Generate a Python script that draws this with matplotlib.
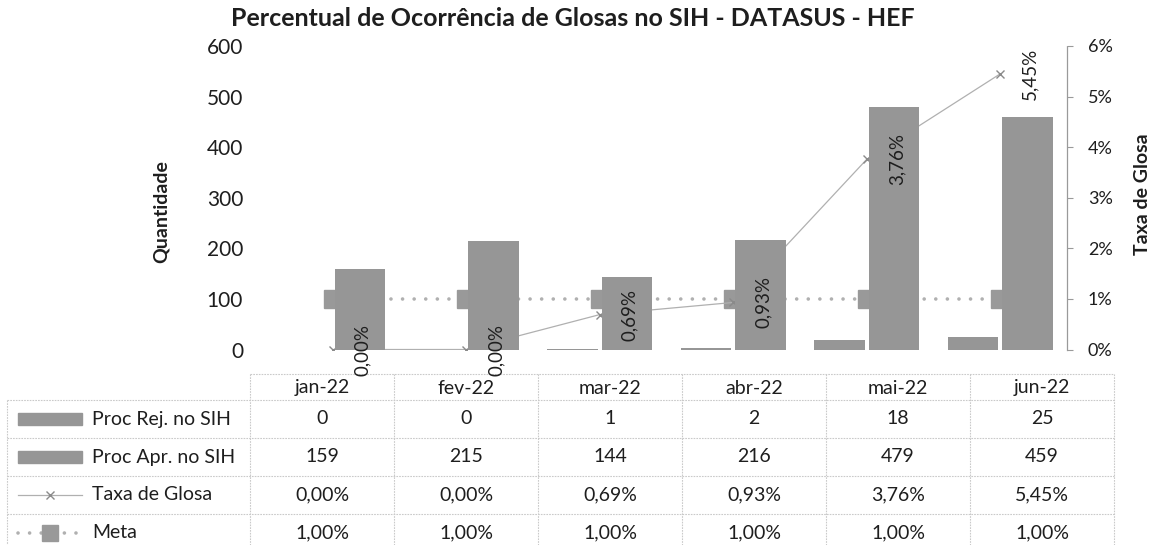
import matplotlib
matplotlib.use('Agg')
import matplotlib.pyplot as plt
import numpy as np
from matplotlib.patches import Rectangle

# ---------------- data ----------------
months = ['jan-22', 'fev-22', 'mar-22', 'abr-22', 'mai-22', 'jun-22']
proc_rej = [0, 0, 1, 2, 18, 25]
proc_apr = [159, 215, 144, 216, 479, 459]
taxa = [0.00, 0.00, 0.69, 0.93, 3.76, 5.45]      # %
meta = [1.00, 1.00, 1.00, 1.00, 1.00, 1.00]      # %
row_labels = ['Proc Rej. no SIH', 'Proc Apr. no SIH', 'Taxa de Glosa', 'Meta']
title = 'Percentual de Ocorrência de Glosas no SIH - DATASUS - HEF'
left_ticks = [0, 100, 200, 300, 400, 500, 600]
right_ticks = [0, 1, 2, 3, 4, 5, 6]


def pct(v):
    return f'{v:.2f}%'.replace('.', ',')


plt.rcParams['font.family'] = ['Lato', 'DejaVu Sans']

W, H = 1150, 545
fig = plt.figure(figsize=(W / 100, H / 100), dpi=100)

BAR_C = '#969696'
LINE_C = '#b0b0b0'
TXT_C = '#1e1e1e'

# ---------------- chart ----------------
ax = fig.add_axes([266 / W, (H - 349.5) / H, 801 / W, 303.5 / H])
ax2 = ax.twinx()
ax.set_zorder(ax2.get_zorder() + 1)
ax.patch.set_visible(False)

x = np.arange(len(months))
ax.bar(x - 0.205, proc_rej, width=0.38, color=BAR_C, zorder=2)
ax.bar(x + 0.205, proc_apr, width=0.38, color=BAR_C, zorder=2)
ax.set_xlim(-0.5, len(months) - 0.5)
ax.set_ylim(0, 600)
ax.set_yticks(left_ticks)
ax.set_xticks([])
ax.tick_params(axis='y', length=0, pad=16.5, labelsize=15, labelcolor=TXT_C)
for s in ax.spines.values():
    s.set_visible(False)

# lines (drawn behind the bars)
ax2.plot(x, meta, color=LINE_C, lw=2.6, linestyle=(0, (0.01, 3.2)),
         dash_capstyle='round', marker='s', ms=13, mfc='#999999', mec='#999999')
ax2.plot(x, taxa, color=LINE_C, lw=0.9, marker='x', ms=6, mew=1, mec='#8a8a8a')
ax2.set_ylim(0, 6)
ax2.set_yticks(right_ticks)
ax2.set_yticklabels([f'{t}%' for t in right_ticks])
ax2.tick_params(axis='y', direction='out', length=4, color='#9a9a9a', pad=11,
                labelsize=13, labelcolor=TXT_C)
for k, s in ax2.spines.items():
    s.set_visible(k == 'right')
ax2.spines['right'].set_color('#9a9a9a')
ax2.spines['right'].set_linestyle((0, (1, 1)))
ax2.spines['right'].set_linewidth(0.9)

# data labels for Taxa de Glosa (on top of bars)
for xi, v in zip(x, taxa):
    ax.annotate(pct(v), xy=(xi, v), xycoords=ax2.transData, xytext=(21.5, 0),
                textcoords='offset points', rotation=90, ha='center', va='center',
                fontsize=13.5, color=TXT_C, zorder=5, annotation_clip=False)

# titles
fig.text(573 / W, 1 - 19 / H, title, ha='center', va='center', fontsize=18,
         fontweight='bold', color=TXT_C)
fig.text(161 / W, 1 - 212 / H, 'Quantidade', rotation=90, ha='center', va='center',
         fontsize=14, fontweight='bold', color=TXT_C)
fig.text(1143 / W, 1 - 194 / H, 'Taxa de Glosa', rotation=90, ha='center', va='center',
         fontsize=14, fontweight='bold', color=TXT_C)

# ---------------- data table ----------------
tax = fig.add_axes([0, 0, 1, 1])
tax.set_xlim(0, W)
tax.set_ylim(H, 0)
tax.axis('off')
tax.set_zorder(0)

col_left, col_w = 250, 144
n = len(months)
right_edge = col_left + col_w * n
top_y, head_bot = 374, 400
row_h = 38
row_centers = [head_bot + row_h * (i + 0.5) for i in range(len(row_labels))]
grid_kw = dict(color='#cacaca', lw=0.8, linestyle=(0, (1.5, 1)))

tax.plot([col_left, right_edge], [top_y, top_y], **grid_kw)
for i in range(len(row_labels)):
    yl = head_bot + row_h * i
    tax.plot([7, right_edge], [yl, yl], **grid_kw)
tax.plot([7, 7], [head_bot, H], **grid_kw)
for j in range(n + 1):
    xl = col_left + col_w * j
    tax.plot([xl, xl], [top_y, H], **grid_kw)

for j, m in enumerate(months):
    cx = col_left + col_w * (j + 0.5)
    tax.text(cx, (top_y + head_bot) / 2 + 1, m, ha='center', va='center', fontsize=14, color=TXT_C)
    vals = [str(proc_rej[j]), str(proc_apr[j]), pct(taxa[j]), pct(meta[j])]
    for yc, v in zip(row_centers, vals):
        tax.text(cx, yc, v, ha='center', va='center', fontsize=14, color=TXT_C)

for yc, lab in zip(row_centers, row_labels):
    tax.text(92, yc, lab, ha='left', va='center', fontsize=14, color=TXT_C)

# legend keys
for yc in row_centers[:2]:
    tax.add_patch(Rectangle((18, yc - 6), 64, 12, color=BAR_C))
tax.plot([18, 82], [row_centers[2]] * 2, color=LINE_C, lw=0.9)
tax.plot([50], [row_centers[2]], marker='x', ms=6, mew=1, color='#8a8a8a')
tax.plot([18, 82], [row_centers[3]] * 2, color=LINE_C, lw=2.6, linestyle=(0, (0.01, 3.2)),
         dash_capstyle='round')
tax.plot([50], [row_centers[3]], marker='s', ms=12, color='#999999')

fig.savefig('out.png', dpi=100)
